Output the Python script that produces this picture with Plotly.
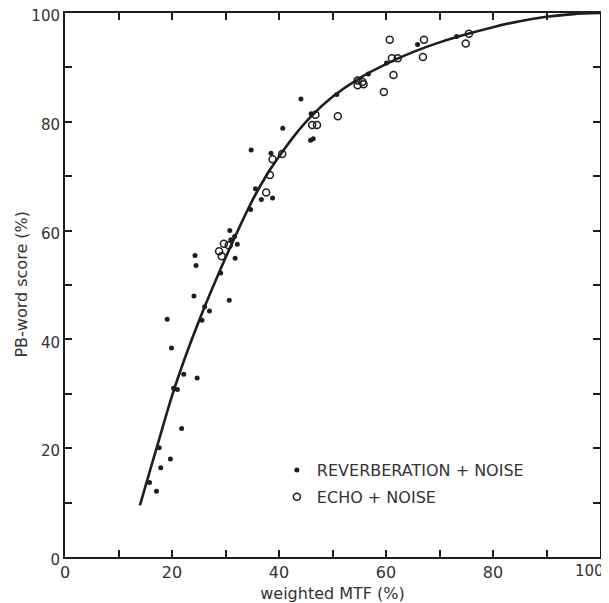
import plotly.graph_objects as go

# Reverberation + noise (filled dots)
rev_x = [15.8, 17.1, 17.6, 17.9, 19.7, 19.1, 19.9, 20.3, 21.0, 21.8, 22.2, 24.7, 24.1, 24.3, 24.5,
         25.6, 26.1, 27.0, 29.1, 30.7, 30.8, 31.0, 31.7, 32.2, 31.8, 34.7, 35.6, 34.8, 36.7, 38.8,
         38.5, 40.7, 44.1, 45.9, 46.4, 46.0, 50.8, 56.7, 60.1, 65.9, 73.2]
rev_y = [13.7, 12.1, 20.1, 16.4, 18.0, 43.7, 38.4, 31.0, 30.8, 23.6, 33.6, 32.9, 48.0, 55.4, 53.6,
         43.5, 46.0, 45.2, 52.2, 47.2, 60.0, 58.3, 58.9, 57.5, 54.9, 63.9, 67.7, 74.8, 65.7, 66.0,
         74.2, 78.8, 84.2, 76.6, 76.9, 81.5, 85.0, 88.8, 90.8, 94.2, 95.7]

# Echo + noise (open circles)
echo_x = [28.8, 29.3, 29.7, 30.6, 37.6, 38.3, 38.8, 40.6, 46.8, 46.2, 47.1, 51.0, 54.7, 55.6,
          54.7, 55.8, 59.6, 60.7, 61.1, 62.2, 61.4, 67.1, 66.9, 74.9, 75.5]
echo_y = [56.2, 55.3, 57.6, 57.3, 67.0, 70.2, 73.1, 74.1, 81.3, 79.4, 79.4, 81.0, 87.6, 87.3,
          86.7, 86.9, 85.5, 95.1, 91.7, 91.7, 88.6, 95.1, 91.9, 94.4, 96.2]

# Fitted curve
curve_x = [14, 15.6, 17.5, 20, 22.5, 25, 27.5, 30, 32.5, 35, 37.5, 40, 43, 46, 50, 55, 60,
           65, 70, 75, 80, 85, 90, 95, 100]
curve_y = [9.5, 14.9, 21.3, 29.6, 36.8, 43.3, 49.3, 55.0, 60.4, 65.5, 69.9, 73.6, 77.6, 81.0,
           84.6, 88.0, 90.6, 92.8, 94.6, 96.1, 97.4, 98.5, 99.3, 99.8, 100]

x_ticks = [0, 20, 40, 60, 80, 100]
y_ticks = [0, 20, 40, 60, 80, 100]

ink = "#1e1e1e"
txt = "#333333"
font_family = "DejaVu Sans"

fig = go.Figure()
fig.add_trace(go.Scatter(x=curve_x, y=curve_y, mode="lines",
                         line=dict(color=ink, width=2.6, shape="spline", smoothing=0.8),
                         showlegend=False, hoverinfo="skip"))
fig.add_trace(go.Scatter(x=rev_x, y=rev_y, mode="markers", name="REVERBERATION + NOISE",
                         legendgroup="a",
                         marker=dict(symbol="circle", size=5, color=ink)))
fig.add_trace(go.Scatter(x=echo_x, y=echo_y, mode="markers", name="ECHO + NOISE",
                         legendgroup="b",
                         marker=dict(symbol="circle-open", size=7, color=ink,
                                     line=dict(width=1.5, color=ink))))

axis_common = dict(
    showgrid=False, zeroline=False, showline=True, linecolor=ink, linewidth=2,
    mirror="ticks", ticks="inside", ticklen=7, tickwidth=1.5, tickcolor=ink,
    minor=dict(dtick=10, ticks="inside", ticklen=7, tickwidth=1.5, tickcolor=ink),
    automargin=False, ticklabeloverflow="allow",
)

# last x label (100) sits at the page edge: shown as a right-aligned annotation
x_label_vals = x_ticks[:-1]
fig.update_xaxes(range=[0, 100], tickvals=x_label_vals, ticktext=[str(v) for v in x_label_vals],
                 tickfont=dict(family=font_family, size=16, color=txt),
                 title=dict(text="weighted MTF (%)", font=dict(family=font_family, size=16, color=txt),
                            standoff=10),
                 **axis_common)
fig.add_annotation(x=x_ticks[-1], y=0, xref="x", yref="paper", text=str(x_ticks[-1]),
                   showarrow=False, xanchor="right", yanchor="top", xshift=6, yshift=-3,
                   font=dict(family=font_family, size=15, color=txt))

fig.update_yaxes(range=[0, 100], tickvals=y_ticks, ticktext=[str(v) for v in y_ticks],
                 tickfont=dict(family=font_family, size=15, color=txt),
                 ticklabelshift=3,
                 **axis_common)
fig.add_annotation(x=-0.081, y=0.502, xref="paper", yref="paper", text="PB-word score (%)",
                   textangle=-90, showarrow=False, xanchor="center", yanchor="middle",
                   font=dict(family=font_family, size=16, color=txt))

# page body has an 8px margin: figure is 601x595 so the plot box lands at 65..600 x 13..549
fig.update_layout(
    width=601, height=595,
    margin=dict(l=57, r=9, t=5, b=46),
    paper_bgcolor="white", plot_bgcolor="white",
    font=dict(family=font_family, color=txt),
    legend=dict(x=0.396, y=0.191, xanchor="left", yanchor="top",
                bgcolor="rgba(0,0,0,0)", borderwidth=0,
                font=dict(family=font_family, size=16, color=txt),
                tracegroupgap=3, itemwidth=30),
    showlegend=True,
)

fig.write_html("out.html")
